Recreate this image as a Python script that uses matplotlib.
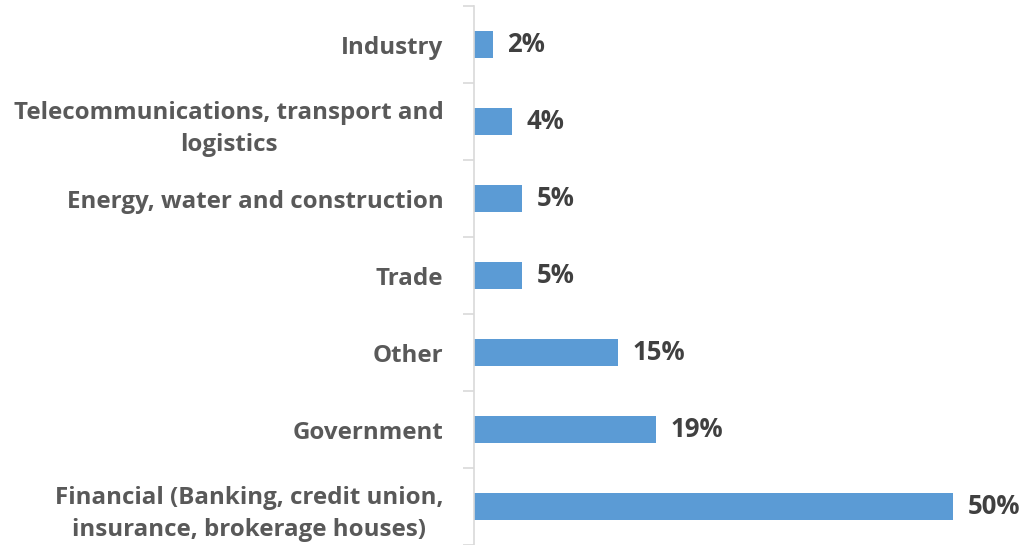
import matplotlib
matplotlib.use("Agg")
import matplotlib.pyplot as plt

categories = [
    "Industry",
    "Telecommunications, transport and\nlogistics",
    "Energy, water and construction",
    "Trade",
    "Other",
    "Government",
    "Financial (Banking, credit union,\ninsurance, brokerage houses)",
]
values = [2, 4, 5, 5, 15, 19, 50]
value_labels = ["2%", "4%", "5%", "5%", "15%", "19%", "50%"]

plt.rcParams["font.family"] = ["Open Sans", "DejaVu Sans"]

W, H = 1028, 545
fig = plt.figure(figsize=(W / 100, H / 100), dpi=100)
ax = fig.add_axes([474 / W, 0, (W - 474) / W, (545 - 6) / H])

n = len(categories)
ypos = list(range(n))
ax.barh(ypos, values, height=0.35, color="#5B9BD5", zorder=2)
ax.set_ylim(n - 0.5, -0.5)
ax.set_xlim(0, (W - 474) / 9.58)

for y, v, lab in zip(ypos, values, value_labels):
    ax.text(v + 1.5, y, lab, va="center", ha="left", fontsize=18.5,
            fontweight="bold", color="#404040")

ax.set_yticks(ypos)
ax.set_yticklabels(categories, fontsize=17.4, fontweight="bold", color="#595959",
                   linespacing=1.45)
ax.tick_params(axis="y", length=0, pad=22)
ax.set_yticks([i - 0.5 for i in range(n + 1)], minor=True)
ax.tick_params(axis="y", which="minor", length=8, width=1.2, color="#D9D9D9")
for lbl in ax.get_yticklabels():
    lbl.set_horizontalalignment("right")
    lbl.set_multialignment("center")

ax.set_xticks([])
for s in ["top", "right", "bottom"]:
    ax.spines[s].set_visible(False)
ax.spines["left"].set_color("#D9D9D9")
ax.spines["left"].set_linewidth(1.2)

fig.savefig("out.png", dpi=100)
